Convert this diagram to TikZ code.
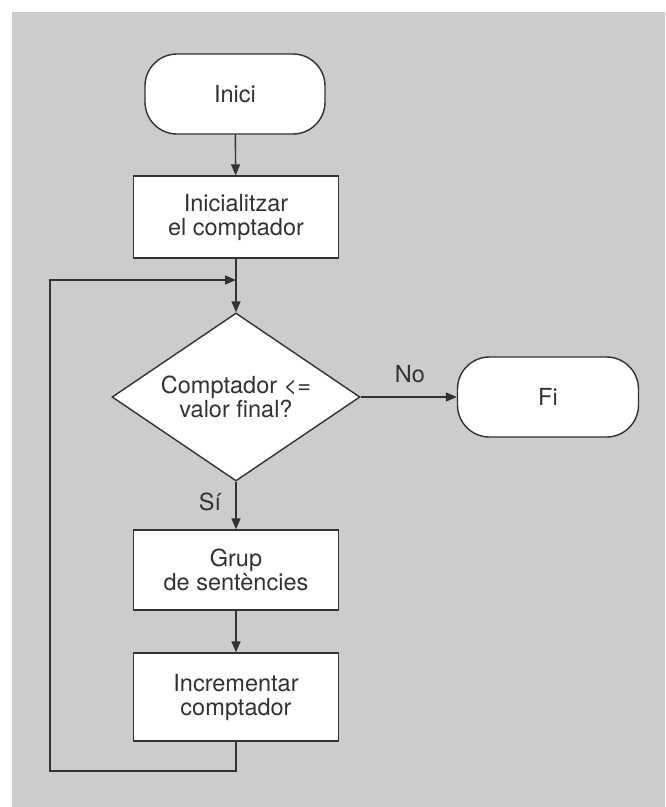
\documentclass[tikz,border=0pt]{standalone}
\usepackage{fontspec}
\setmainfont{TeX Gyre Heros}
\usetikzlibrary{arrows.meta,shapes.geometric}
\definecolor{bg}{RGB}{204,204,204}
\definecolor{ink}{RGB}{50,50,50}
\begin{document}
\begin{tikzpicture}[x=1pt,y=-1pt,
  every node/.style={font=\fontsize{23.5}{24}\selectfont, text=ink, align=center, inner sep=0pt},
  terminal/.style={draw=ink, line width=1.4pt, fill=white, rounded corners=32pt,
                   minimum width=180pt, minimum height=80pt},
  procbox/.style={draw=ink, line width=1.4pt, fill=white, minimum width=205pt},
  decision/.style={draw=ink, line width=1.4pt, fill=white, diamond, aspect=1.476,
                   minimum width=248pt, minimum height=168pt},
  link/.style={draw=ink, line width=1.4pt},
  arr/.style={link, -{Triangle[length=11pt,width=9pt]}},
  lbl/.style={font=\fontsize{23.5}{24}\selectfont}]
  \useasboundingbox (0,0) rectangle (665,807);
  \fill[bg] (12,12) rectangle (665,807);

  % flowchart nodes
  \node[terminal] (inici) at (235,94) {Inici};
  \node[procbox, minimum height=82pt] (init) at (236,217) {Inicialitzar\\el comptador};
  \node[decision] (cond) at (236,397) {Comptador <=\\valor final?};
  \node[terminal, minimum width=181pt] (fi) at (548,397) {Fi};
  \node[procbox, minimum height=80pt] (grup) at (236,570) {Grup\\de sentències};
  \node[procbox, minimum height=88pt] (incr) at (236,697) {Incrementar\\comptador};

  % loop-back path points
  \coordinate (loopB) at (50,771);
  \coordinate (loopT) at (50,280);
  \coordinate (join) at (236,280);

  % connectors
  \draw[arr] (inici) -- (init);
  \draw[arr] (init) -- (cond);
  \draw[arr] (cond.east) -- (fi.west);
  \draw[arr] (cond.south) -- (grup.north);
  \draw[arr] (grup) -- (incr);
  \draw[arr] (incr.south) |- (loopB) -- (loopT) -- (join);

  % branch labels
  \node[lbl] (no) at (410,374) {No};
  \node[lbl] (si) at (210,502) {Sí};
\end{tikzpicture}
\end{document}
